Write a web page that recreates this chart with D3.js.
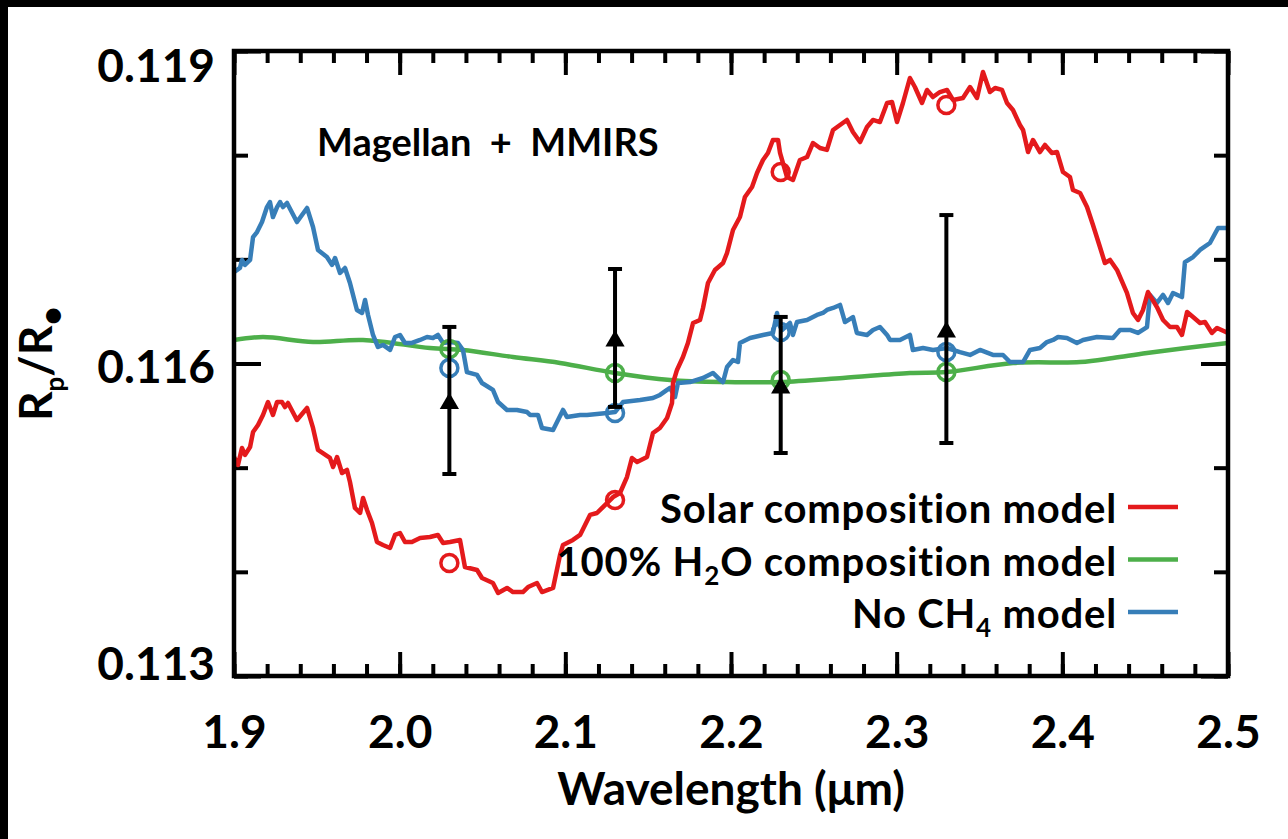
<!DOCTYPE html>
<html>
<head>
<meta charset="utf-8">
<script src="https://cdn.jsdelivr.net/npm/d3@7"></script>
<style>
  html, body { margin: 0; padding: 0; background: #000; }
  svg { display: block; }
  text { font-family: Lato, "DejaVu Sans", sans-serif; fill: #000; font-weight: bold; }
</style>
</head>
<body>
<svg id="chart" width="1288" height="839"></svg>
<script>
// ---- axis ranges and tick labels ----
const xDomain = [1.9, 2.5];
const yDomain = [0.113, 0.119];
const xTicks = [1.9, 2.0, 2.1, 2.2, 2.3, 2.4, 2.5];
const xTickLabels = ["1.9", "2.0", "2.1", "2.2", "2.3", "2.4", "2.5"];
const yTicks = [0.113, 0.116, 0.119];
const yTickLabels = ["0.113", "0.116", "0.119"];

// ---- model spectra: wavelength (um) and Rp/R* ----
const solarWl = [1.9000,1.9024,1.9048,1.9066,1.9097,1.9115,1.9145,1.9175,1.9205,1.9235,
  1.9260,1.9290,1.9308,1.9326,1.9380,1.9441,1.9477,1.9507,1.9579,1.9598,
  1.9622,1.9652,1.9682,1.9700,1.9730,1.9761,1.9779,1.9803,1.9833,1.9863,
  1.9899,1.9942,1.9972,2.0002,2.0032,2.0074,2.0123,2.0183,2.0231,2.0262,
  2.0304,2.0364,2.0394,2.0467,2.0497,2.0563,2.0594,2.0648,2.0684,2.0744,
  2.0775,2.0829,2.0859,2.0926,2.0968,2.0986,2.1046,2.1089,2.1149,2.1191,
  2.1227,2.1288,2.1330,2.1372,2.1402,2.1433,2.1493,2.1529,2.1571,2.1614,
  2.1644,2.1650,2.1674,2.1710,2.1740,2.1771,2.1813,2.1831,2.1861,2.1903,
  2.1952,2.1976,2.2012,2.2054,2.2084,2.2127,2.2157,2.2193,2.2223,2.2253,
  2.2284,2.2296,2.2338,2.2374,2.2416,2.2459,2.2495,2.2537,2.2579,2.2616,
  2.2658,2.2700,2.2736,2.2779,2.2821,2.2857,2.2899,2.2942,2.2972,2.3002,
  2.3038,2.3080,2.3110,2.3153,2.3183,2.3219,2.3261,2.3304,2.3340,2.3400,
  2.3443,2.3485,2.3521,2.3563,2.3594,2.3636,2.3666,2.3702,2.3744,2.3763,
  2.3793,2.3823,2.3865,2.3895,2.3937,2.3968,2.4004,2.4046,2.4064,2.4107,
  2.4149,2.4185,2.4227,2.4257,2.4288,2.4330,2.4390,2.4426,2.4457,2.4487,
  2.4517,2.4571,2.4608,2.4650,2.4692,2.4722,2.4753,2.4789,2.4831,2.4861,
  2.4903,2.4934,2.5000];
const solarR = [0.115102,0.115026,0.115189,0.115122,0.115198,0.115342,0.115410,0.115506,0.115630,0.115506,
  0.115630,0.115630,0.115582,0.115621,0.115458,0.115573,0.115381,0.115170,0.115093,0.115006,
  0.115102,0.114949,0.114978,0.114862,0.114613,0.114565,0.114709,0.114594,0.114469,0.114286,
  0.114258,0.114229,0.114354,0.114373,0.114286,0.114286,0.114325,0.114334,0.114354,0.114277,
  0.114286,0.114306,0.114046,0.114018,0.113941,0.113893,0.113797,0.113845,0.113806,0.113806,
  0.113854,0.113893,0.113806,0.113845,0.114162,0.114258,0.114306,0.114354,0.114546,0.114565,
  0.114622,0.114718,0.114757,0.114910,0.115093,0.115054,0.115102,0.115333,0.115381,0.115477,
  0.115621,0.115813,0.115938,0.116062,0.116197,0.116389,0.116418,0.116533,0.116773,0.116898,
  0.116965,0.117061,0.117282,0.117406,0.117598,0.117694,0.117829,0.117954,0.118021,0.118146,
  0.118146,0.118021,0.117790,0.117762,0.117954,0.117982,0.118117,0.118069,0.118050,0.118242,
  0.118290,0.118338,0.118222,0.118126,0.118270,0.118338,0.118318,0.118501,0.118510,0.118318,
  0.118501,0.118741,0.118654,0.118501,0.118626,0.118558,0.118606,0.118626,0.118530,0.118549,
  0.118654,0.118549,0.118798,0.118606,0.118645,0.118626,0.118501,0.118434,0.118290,0.118242,
  0.118030,0.118146,0.118030,0.118098,0.118021,0.118030,0.117838,0.117790,0.117666,0.117637,
  0.117502,0.117330,0.117118,0.116965,0.116994,0.116898,0.116677,0.116485,0.116418,0.116514,
  0.116686,0.116542,0.116418,0.116350,0.116350,0.116274,0.116494,0.116446,0.116389,0.116398,
  0.116293,0.116341,0.116293];

const waterWl = [1.9000,1.9175,1.9477,1.9779,2.0183,2.0382,2.0684,2.0968,2.1300,2.1632,
  2.1976,2.2296,2.2676,2.3080,2.3304,2.3702,2.4107,2.4306,2.4511,2.5000];
const waterR = [0.116226,0.116254,0.116206,0.116226,0.116149,0.116130,0.116062,0.116005,0.115909,0.115842,
  0.115822,0.115822,0.115861,0.115909,0.115918,0.116005,0.116014,0.116053,0.116101,0.116197];

const noMethaneWl = [1.9000,1.9036,1.9048,1.9066,1.9097,1.9115,1.9139,1.9169,1.9199,1.9217,
  1.9235,1.9260,1.9278,1.9296,1.9320,1.9380,1.9441,1.9477,1.9507,1.9561,
  1.9592,1.9610,1.9640,1.9670,1.9700,1.9742,1.9773,1.9791,1.9809,1.9839,
  1.9869,1.9899,1.9942,1.9972,2.0002,2.0032,2.0074,2.0123,2.0165,2.0201,
  2.0231,2.0262,2.0304,2.0352,2.0382,2.0406,2.0467,2.0497,2.0563,2.0594,
  2.0648,2.0708,2.0769,2.0787,2.0835,2.0859,2.0926,2.0986,2.1010,2.1089,
  2.1131,2.1252,2.1300,2.1348,2.1451,2.1529,2.1571,2.1614,2.1632,2.1662,
  2.1680,2.1752,2.1831,2.1891,2.1934,2.1952,2.1976,2.2012,2.2042,2.2054,
  2.2115,2.2193,2.2253,2.2278,2.2284,2.2308,2.2356,2.2374,2.2398,2.2459,
  2.2519,2.2555,2.2579,2.2616,2.2658,2.2688,2.2736,2.2760,2.2821,2.2857,
  2.2899,2.2942,2.2960,2.3020,2.3080,2.3098,2.3159,2.3219,2.3304,2.3382,
  2.3443,2.3503,2.3581,2.3642,2.3684,2.3763,2.3805,2.3865,2.3907,2.3944,
  2.3974,2.4028,2.4088,2.4125,2.4209,2.4306,2.4348,2.4408,2.4457,2.4511,
  2.4529,2.4571,2.4608,2.4638,2.4668,2.4722,2.4740,2.4789,2.4831,2.4891,
  2.4940,2.5000];
const noMethaneR = [0.116878,0.116917,0.116994,0.116946,0.116994,0.117214,0.117262,0.117358,0.117502,0.117550,
  0.117406,0.117502,0.117550,0.117502,0.117541,0.117358,0.117493,0.117310,0.117090,0.117022,
  0.116946,0.117013,0.116869,0.116917,0.116773,0.116514,0.116485,0.116610,0.116466,0.116274,
  0.116158,0.116178,0.116130,0.116254,0.116274,0.116197,0.116197,0.116226,0.116254,0.116245,
  0.116274,0.116197,0.116206,0.116197,0.116130,0.115918,0.115890,0.115813,0.115746,0.115630,
  0.115554,0.115554,0.115534,0.115506,0.115506,0.115381,0.115362,0.115554,0.115486,0.115506,
  0.115506,0.115525,0.115534,0.115630,0.115650,0.115669,0.115698,0.115746,0.115765,0.115678,
  0.115813,0.115822,0.115861,0.115909,0.115842,0.115822,0.115966,0.116034,0.116014,0.116197,
  0.116245,0.116274,0.116293,0.116485,0.116389,0.116322,0.116389,0.116274,0.116398,0.116418,
  0.116466,0.116485,0.116514,0.116533,0.116562,0.116398,0.116446,0.116293,0.116274,0.116322,
  0.116350,0.116274,0.116226,0.116226,0.116274,0.116130,0.116149,0.116130,0.116149,0.116110,
  0.116082,0.116130,0.116082,0.116082,0.116014,0.116014,0.116130,0.116149,0.116206,0.116226,
  0.116254,0.116245,0.116197,0.116226,0.116254,0.116245,0.116322,0.116322,0.116293,0.116350,
  0.116658,0.116581,0.116658,0.116581,0.116677,0.116638,0.116974,0.117022,0.117090,0.117157,
  0.117301,0.117301];

// ---- band-integrated models and measured radius ratios ----
const binWl = [2.03, 2.13, 2.23, 2.33];
const solarBin = [0.114085, 0.114690, 0.117838, 0.118482];
const waterBin = [0.116139, 0.115909, 0.115842, 0.115918];
const noMethaneBin = [0.115957, 0.115525, 0.116302, 0.116110];
const obsR = [0.115645, 0.116245, 0.115794, 0.116331];
const obsErr = [0.000706, 0.000662, 0.000653, 0.001094];

const colors = { solar: "#e41a1c", water: "#4daf4a", noMethane: "#377eb8" };

// ---- layout ----
const W = 1288, H = 839;
const plot = { left: 234, right: 1228, top: 51, bottom: 676 };
const svg = d3.select("#chart");

// page background: dark band along top and left edges
svg.append("rect").attr("width", W).attr("height", H).attr("fill", "#000");
svg.append("rect").attr("x", 8).attr("y", 7).attr("width", W - 8).attr("height", H - 7).attr("fill", "#fff");

const x = d3.scaleLinear().domain(xDomain).range([plot.left, plot.right]);
const y = d3.scaleLinear().domain(yDomain).range([plot.bottom, plot.top]);

svg.append("clipPath").attr("id", "plotClip").append("rect")
  .attr("x", plot.left).attr("y", plot.top)
  .attr("width", plot.right - plot.left).attr("height", plot.bottom - plot.top);

const xMinor = d3.range(0, 31).map(i => xDomain[0] + i * 0.02);
const yMinor = d3.range(0, 7).map(i => yDomain[0] + i * 0.001);

function styleAxis(g) {
  g.select(".domain").remove();
  g.selectAll(".tick line").attr("stroke", "#000").attr("stroke-width", 4);
  g.selectAll(".tick text").style("font-size", "46px").style("font-weight", "bold")
    .style("font-family", "Lato, 'DejaVu Sans', sans-serif");
}

// bottom axis with labels
svg.append("g").attr("transform", `translate(0,${plot.bottom})`)
  .call(d3.axisBottom(x).tickValues(xTicks).tickSize(-24).tickPadding(39)
    .tickFormat((d, i) => xTickLabels[i]))
  .call(styleAxis);
svg.append("g").attr("transform", `translate(0,${plot.bottom})`)
  .call(d3.axisBottom(x).tickValues(xMinor).tickSize(-12).tickFormat(""))
  .call(styleAxis);
// top axis
svg.append("g").attr("transform", `translate(0,${plot.top})`)
  .call(d3.axisTop(x).tickValues(xTicks).tickSize(-24).tickFormat(""))
  .call(styleAxis);
svg.append("g").attr("transform", `translate(0,${plot.top})`)
  .call(d3.axisTop(x).tickValues(xMinor).tickSize(-12).tickFormat(""))
  .call(styleAxis);
// left axis with labels
const gLeft = svg.append("g").attr("transform", `translate(${plot.left},0)`)
  .call(d3.axisLeft(y).tickValues(yTicks).tickSize(-27).tickPadding(19)
    .tickFormat((d, i) => yTickLabels[i]))
  .call(styleAxis);
// keep end labels inside the frame height
gLeft.selectAll(".tick text").attr("y", d => {
  const c = Math.max(plot.top + 16, Math.min(plot.bottom - 11, y(d) + 4));
  return c - y(d);
});
svg.append("g").attr("transform", `translate(${plot.left},0)`)
  .call(d3.axisLeft(y).tickValues(yMinor).tickSize(-14).tickFormat(""))
  .call(styleAxis);
// right axis
svg.append("g").attr("transform", `translate(${plot.right},0)`)
  .call(d3.axisRight(y).tickValues(yTicks).tickSize(-27).tickFormat(""))
  .call(styleAxis);
svg.append("g").attr("transform", `translate(${plot.right},0)`)
  .call(d3.axisRight(y).tickValues(yMinor).tickSize(-14).tickFormat(""))
  .call(styleAxis);

// model curves
const curves = svg.append("g").attr("clip-path", "url(#plotClip)");
const line = d3.line().x(d => x(d[0])).y(d => y(d[1]));
const smooth = d3.line().x(d => x(d[0])).y(d => y(d[1])).curve(d3.curveCatmullRom.alpha(0.5));

curves.append("path").datum(d3.zip(waterWl, waterR))
  .attr("d", smooth).attr("fill", "none").attr("stroke", colors.water).attr("stroke-width", 4.5);
curves.append("path").datum(d3.zip(noMethaneWl, noMethaneR))
  .attr("d", line).attr("fill", "none").attr("stroke", colors.noMethane).attr("stroke-width", 4.5)
  .attr("stroke-linejoin", "round");
curves.append("path").datum(d3.zip(solarWl, solarR))
  .attr("d", line).attr("fill", "none").attr("stroke", colors.solar).attr("stroke-width", 4.5)
  .attr("stroke-linejoin", "round");

// band-integrated model values (open circles)
[[solarBin, colors.solar], [waterBin, colors.water], [noMethaneBin, colors.noMethane]].forEach(([vals, col]) => {
  svg.append("g").selectAll("circle").data(d3.zip(binWl, vals)).join("circle")
    .attr("cx", d => x(d[0])).attr("cy", d => y(d[1])).attr("r", 8.5)
    .attr("fill", "none").attr("stroke", col).attr("stroke-width", 3.5);
});

// measurements with 1-sigma error bars
const obs = d3.zip(binWl, obsR, obsErr);
const eb = svg.append("g").attr("stroke", "#000").attr("stroke-width", 4);
eb.selectAll("line.bar").data(obs).join("line").attr("class", "bar")
  .attr("x1", d => x(d[0])).attr("x2", d => x(d[0]))
  .attr("y1", d => y(d[1] - d[2])).attr("y2", d => y(d[1] + d[2]));
eb.selectAll("line.capTop").data(obs).join("line").attr("class", "capTop")
  .attr("x1", d => x(d[0]) - 7).attr("x2", d => x(d[0]) + 7)
  .attr("y1", d => y(d[1] + d[2])).attr("y2", d => y(d[1] + d[2]));
eb.selectAll("line.capBot").data(obs).join("line").attr("class", "capBot")
  .attr("x1", d => x(d[0]) - 7).attr("x2", d => x(d[0]) + 7)
  .attr("y1", d => y(d[1] - d[2])).attr("y2", d => y(d[1] - d[2]));
svg.append("g").selectAll("path").data(obs).join("path")
  .attr("d", d3.symbol().type(d3.symbolTriangle).size(160))
  .attr("transform", d => `translate(${x(d[0])},${y(d[1]) + 3})`)
  .attr("fill", "#000");

// frame
svg.append("rect").attr("x", plot.left).attr("y", plot.top)
  .attr("width", plot.right - plot.left).attr("height", plot.bottom - plot.top)
  .attr("fill", "none").attr("stroke", "#000").attr("stroke-width", 4.5);

// instrument note
svg.append("text").attr("x", 317).attr("y", 156)
  .style("font-size", "38px").style("white-space", "pre")
  .text("Magellan  +  MMIRS");

// legend
const legendRows = [
  { parts: [["Solar composition model", 0]], color: colors.solar },
  { parts: [["100% H", 0], ["2", 1], ["O composition model", 0]], color: colors.water },
  { parts: [["No CH", 0], ["4", 1], [" model", 0]], color: colors.noMethane }
];
const legend = svg.append("g");
legendRows.forEach((row, i) => {
  const by = 523 + i * 52.5;
  const t = legend.append("text").attr("x", 1117).attr("y", by).attr("text-anchor", "end")
    .style("font-size", "40px").style("letter-spacing", "0.8px").style("white-space", "pre");
  let shifted = false;
  row.parts.forEach(([s, sub]) => {
    const ts = t.append("tspan").text(s);
    if (sub) { ts.attr("dy", 9).style("font-size", "26px"); shifted = true; }
    else if (shifted) { ts.attr("dy", -9); shifted = false; }
  });
  legend.append("line").attr("x1", 1128).attr("x2", 1178).attr("y1", by - 16).attr("y2", by - 16)
    .attr("stroke", row.color).attr("stroke-width", 4.5);
});

// axis titles
svg.append("text").attr("x", (plot.left + plot.right) / 2).attr("y", 805).attr("text-anchor", "middle")
  .style("font-size", "46px").text("Wavelength (\u03BCm)");

const yt = svg.append("text").attr("transform", `translate(52,${(plot.top + plot.bottom) / 2}) rotate(-90)`)
  .attr("text-anchor", "middle").style("font-size", "46px");
yt.append("tspan").text("R");
yt.append("tspan").text("p").attr("dy", 12).style("font-size", "26px");
yt.append("tspan").text("/R").attr("dy", -12);
yt.append("tspan").text("\u2022").attr("dy", 12).style("font-size", "34px");
</script>
</body>
</html>
